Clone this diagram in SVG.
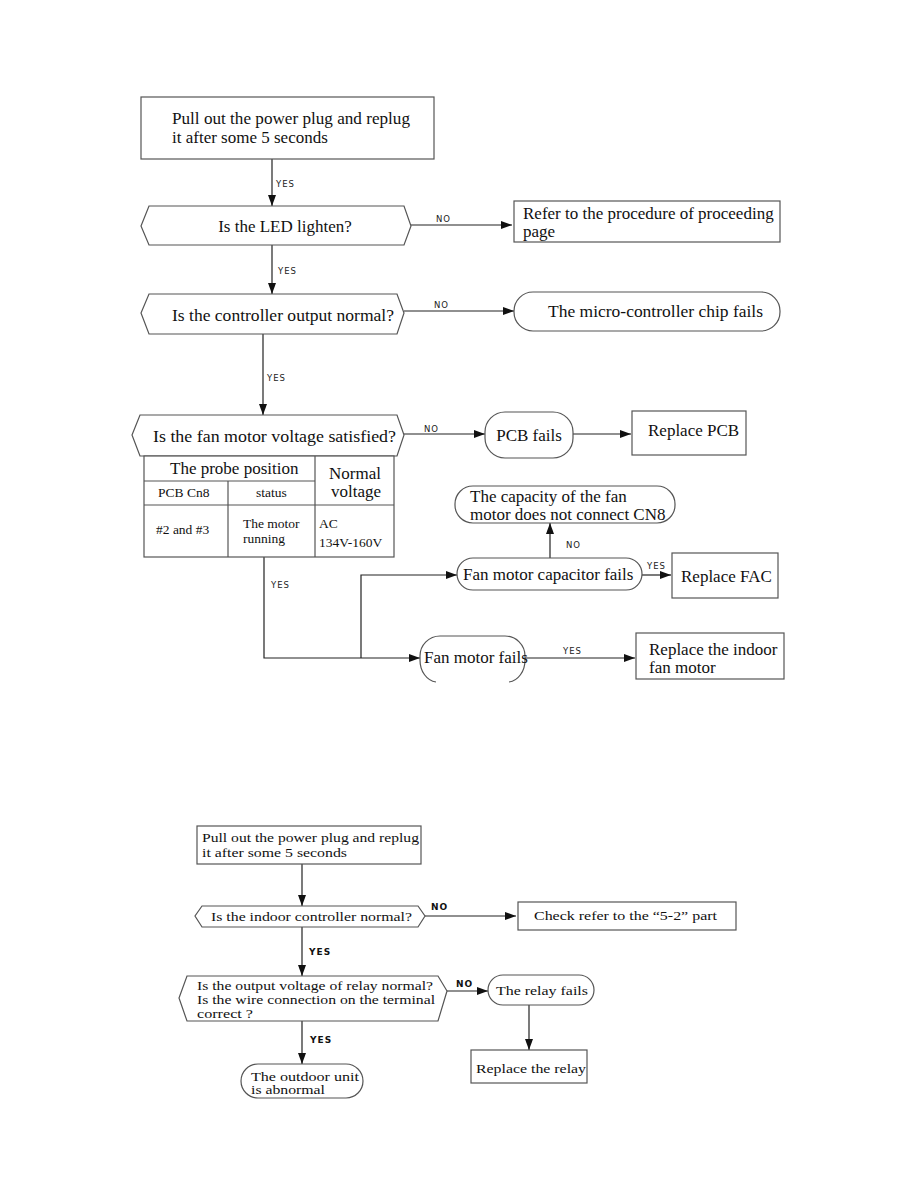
<svg xmlns="http://www.w3.org/2000/svg" width="918" height="1188" viewBox="0 0 918 1188">
<style>
.box{fill:#fff;stroke:#555;stroke-width:1.2}
.ln{fill:none;stroke:#222;stroke-width:1.2}
.t{font-family:"Liberation Serif",serif;font-size:17px;fill:#111}
.ts{font-family:"Liberation Serif",serif;font-size:13.5px;fill:#111}
.lb{font-family:"DejaVu Sans",sans-serif;font-size:8.5px;fill:#222;letter-spacing:1px}
.lbb{font-family:"DejaVu Sans",sans-serif;font-size:9px;font-weight:bold;fill:#111;letter-spacing:1px}
</style>
<defs>
<marker id="ah" markerUnits="userSpaceOnUse" markerWidth="11" markerHeight="8" refX="11" refY="4" orient="auto">
<path d="M0,0 L11,4 L0,8 z" fill="#111"/>
</marker>
</defs>
<rect width="918" height="1188" fill="#fff"/>

<g id="connectors">
<line class="ln" x1="272" y1="159" x2="272" y2="206" marker-end="url(#ah)"/>
<line class="ln" x1="411" y1="225" x2="512" y2="225" marker-end="url(#ah)"/>
<line class="ln" x1="272" y1="245" x2="272" y2="294" marker-end="url(#ah)"/>
<line class="ln" x1="404" y1="311" x2="514" y2="311" marker-end="url(#ah)"/>
<line class="ln" x1="263" y1="334" x2="263" y2="415" marker-end="url(#ah)"/>
<line class="ln" x1="404" y1="434" x2="485" y2="434" marker-end="url(#ah)"/>
<line class="ln" x1="573" y1="434" x2="631" y2="434" marker-end="url(#ah)"/>
<polyline class="ln" points="264,557 264,658 420,658" marker-end="url(#ah)"/>
<polyline class="ln" points="361,658 361,575 457,575" marker-end="url(#ah)"/>
<line class="ln" x1="550" y1="558" x2="550" y2="523" marker-end="url(#ah)"/>
<line class="ln" x1="642" y1="575" x2="671" y2="575" marker-end="url(#ah)"/>
<line class="ln" x1="525" y1="658" x2="635" y2="658" marker-end="url(#ah)"/>
<text class="lb" x="276" y="187">YES</text>
<text class="lb" x="436" y="222">NO</text>
<text class="lb" x="278" y="274">YES</text>
<text class="lb" x="434" y="308">NO</text>
<text class="lb" x="267" y="381">YES</text>
<text class="lb" x="424" y="432">NO</text>
<text class="lb" x="271" y="588">YES</text>
<text class="lb" x="566" y="548">NO</text>
<text class="lb" x="647" y="569">YES</text>
<text class="lb" x="563" y="654">YES</text>

<line class="ln" x1="302" y1="864" x2="302" y2="906" marker-end="url(#ah)"/>
<line class="ln" x1="425" y1="916" x2="516" y2="916" marker-end="url(#ah)"/>
<line class="ln" x1="302" y1="927" x2="302" y2="976" marker-end="url(#ah)"/>
<line class="ln" x1="447" y1="991" x2="488" y2="991" marker-end="url(#ah)"/>
<line class="ln" x1="529" y1="1005" x2="529" y2="1050" marker-end="url(#ah)"/>
<line class="ln" x1="302" y1="1021" x2="302" y2="1064" marker-end="url(#ah)"/>
<text class="lbb" x="431" y="910">NO</text>
<text class="lbb" x="309" y="955">YES</text>
<text class="lbb" x="456" y="987">NO</text>
<text class="lbb" x="310" y="1043">YES</text>
</g>

<g id="n_pull1">
<rect class="box" x="141" y="97" width="293" height="62"/>
<text class="t" x="172" y="124" textLength="238" lengthAdjust="spacingAndGlyphs">Pull out the power plug and replug</text>
<text class="t" x="172" y="143">it after some 5 seconds</text>
</g>
<g id="n_led">
<polygon class="box" points="149,206 404,206 411,226 404,245 149,245 141,226"/>
<text class="t" x="285" y="232" text-anchor="middle">Is the LED lighten?</text>
</g>
<g id="n_refer">
<rect class="box" x="514" y="201" width="266" height="41"/>
<text class="t" x="523" y="219">Refer to the procedure of proceeding</text>
<text class="t" x="523" y="237">page</text>
</g>
<g id="n_ctrl">
<polygon class="box" points="149,294 397,294 404,313 397,334 149,334 141,313"/>
<text class="t" x="172" y="321" textLength="222" lengthAdjust="spacingAndGlyphs">Is the controller output normal?</text>
</g>
<g id="n_micro">
<rect class="box" x="514" y="292" width="266" height="39" rx="19" ry="19"/>
<text class="t" x="548" y="317" textLength="215" lengthAdjust="spacingAndGlyphs">The micro-controller chip fails</text>
</g>
<g id="n_fanv">
<polygon class="box" points="140,415 397,415 404,435 397,456 140,456 132,435"/>
<text class="t" x="153" y="442" textLength="243" lengthAdjust="spacingAndGlyphs">Is the fan motor voltage satisfied?</text>
</g>
<g id="n_pcbfail">
<rect class="box" x="485" y="412" width="88" height="46" rx="20" ry="20"/>
<text class="t" x="529" y="441" text-anchor="middle">PCB fails</text>
</g>
<g id="n_reppcb">
<rect class="box" x="632" y="411" width="114" height="44"/>
<text class="t" x="648" y="436">Replace PCB</text>
</g>
<g id="n_table">
<rect class="box" x="144" y="456" width="250" height="101"/>
<line class="box" x1="144" y1="481" x2="315" y2="481"/>
<line class="box" x1="144" y1="505" x2="394" y2="505"/>
<line class="box" x1="315" y1="456" x2="315" y2="557"/>
<line class="box" x1="228" y1="481" x2="228" y2="557"/>
<text class="t" x="170" y="474">The probe position</text>
<text class="t" x="329" y="479">Normal</text>
<text class="t" x="331" y="497">voltage</text>
<text class="ts" x="158" y="497">PCB Cn8</text>
<text class="ts" x="256" y="497">status</text>
<text class="ts" x="156" y="534">#2 and #3</text>
<text class="ts" x="243" y="528">The motor</text>
<text class="ts" x="243" y="543">running</text>
<text class="ts" x="319" y="528">AC</text>
<text class="ts" x="319" y="547">134V-160V</text>
</g>
<g id="n_capacity">
<rect class="box" x="455" y="486" width="220" height="37" rx="18" ry="18"/>
<text class="t" x="470" y="502">The capacity of the fan</text>
<text class="t" x="470" y="520">motor does not connect CN8</text>
</g>
<g id="n_capfail">
<rect class="box" x="457" y="558" width="185" height="32" rx="16" ry="16"/>
<text class="t" x="463" y="580">Fan motor capacitor fails</text>
</g>
<g id="n_repfac">
<rect class="box" x="672" y="553" width="106" height="45"/>
<text class="t" x="681" y="582">Replace FAC</text>
</g>
<g id="n_motorfail">
<path class="box" d="M436,682 A18,22 0 0 1 420,660 L420,656 A20,20 0 0 1 440,636 L505,636 A20,20 0 0 1 525,656 L525,660 A18,22 0 0 1 509,682"/>
<text class="t" x="424" y="663">Fan motor fails</text>
</g>
<g id="n_repmotor">
<rect class="box" x="636" y="633" width="148" height="46"/>
<text class="t" x="649" y="655">Replace the indoor</text>
<text class="t" x="649" y="673">fan motor</text>
</g>

<g id="n_pull2">
<rect class="box" x="197" y="826" width="224" height="38"/>
<text class="ts" x="202" y="842" textLength="217" lengthAdjust="spacingAndGlyphs">Pull out the power plug and replug</text>
<text class="ts" x="202" y="857" textLength="145" lengthAdjust="spacingAndGlyphs">it after some 5 seconds</text>
</g>
<g id="n_indoor">
<polygon class="box" points="202,906 418,906 425,916 418,927 202,927 195,916"/>
<text class="ts" x="211" y="921" textLength="201" lengthAdjust="spacingAndGlyphs">Is the indoor controller normal?</text>
</g>
<g id="n_check">
<rect class="box" x="518" y="902" width="218" height="28"/>
<text class="ts" x="534" y="920" textLength="183" lengthAdjust="spacingAndGlyphs">Check refer to the “5-2” part</text>
</g>
<g id="n_relayq">
<polygon class="box" points="187,976 438,976 447,991 438,1021 187,1021 179,998"/>
<text class="ts" x="197" y="990" textLength="236" lengthAdjust="spacingAndGlyphs">Is the output voltage of relay normal?</text>
<text class="ts" x="197" y="1004" textLength="238" lengthAdjust="spacingAndGlyphs">Is the wire connection on the terminal</text>
<text class="ts" x="197" y="1018" textLength="56" lengthAdjust="spacingAndGlyphs">correct ?</text>
</g>
<g id="n_relayfail">
<rect class="box" x="488" y="975" width="106" height="30" rx="15" ry="15"/>
<text class="ts" x="496" y="995" textLength="92" lengthAdjust="spacingAndGlyphs">The relay fails</text>
</g>
<g id="n_reprelay">
<rect class="box" x="471" y="1050" width="116" height="33"/>
<text class="ts" x="476" y="1073" textLength="110" lengthAdjust="spacingAndGlyphs">Replace the relay</text>
</g>
<g id="n_outdoor">
<rect class="box" x="241" y="1064" width="122" height="34" rx="17" ry="17"/>
<text class="ts" x="251" y="1081" textLength="108" lengthAdjust="spacingAndGlyphs">The outdoor unit</text>
<text class="ts" x="251" y="1094" textLength="74" lengthAdjust="spacingAndGlyphs">is abnormal</text>
</g>
</svg>
